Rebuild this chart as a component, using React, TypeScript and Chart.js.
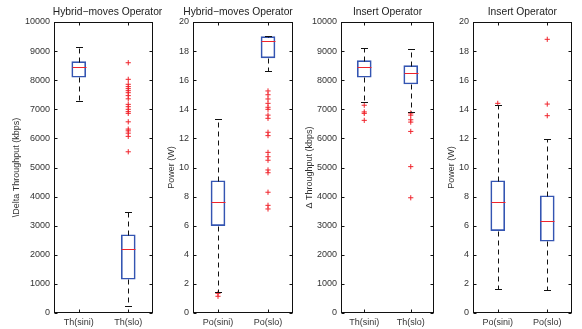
import React, { useEffect, useRef } from "react";
import { Chart, registerables } from "chart.js";

Chart.register(...registerables);

// ---------- data ----------
const TH_CATS = ["Th(sini)", "Th(slo)"];
const PO_CATS = ["Po(sini)", "Po(slo)"];

// stats: [lower whisker, Q1, median, Q3, upper whisker]
const HYB_TH_SINI = [7300, 8100, 8440, 8640, 9130];
const HYB_TH_SLO = [250, 1160, 2190, 2690, 3470];
const HYB_TH_SINI_OUT: number[] = [];
const HYB_TH_SLO_OUT = [8600, 8030, 7860, 7780, 7710, 7640, 7570, 7470, 7360, 7170, 7090, 7000, 6920, 6860, 6570, 6320, 6260, 6180, 6070, 5540];

const HYB_PO_SINI = [1.45, 6.0, 7.65, 9.09, 13.31];
const HYB_PO_SLO = [16.62, 17.53, 18.67, 19.0, 19.05];
const HYB_PO_SINI_OUT = [1.35, 1.15];
const HYB_PO_SLO_OUT = [15.26, 15.0, 14.71, 14.41, 14.14, 14.0, 13.6, 13.38, 12.42, 12.19, 11.04, 10.74, 10.5, 9.83, 9.64, 8.3, 7.4, 7.15];

const INS_TH_SINI = [7250, 8100, 8440, 8670, 9120];
const INS_TH_SLO = [6900, 7870, 8240, 8500, 9060];
const INS_TH_SINI_OUT = [7140, 6910, 6860, 6620];
const INS_TH_SLO_OUT = [6870, 6800, 6640, 6560, 6240, 5030, 3960];

const INS_PO_SINI = [1.63, 5.66, 7.65, 9.09, 14.27];
const INS_PO_SLO = [1.58, 4.93, 6.34, 8.06, 11.98];
const INS_PO_SINI_OUT = [14.41];
const INS_PO_SLO_OUT = [18.81, 14.36, 13.56];

const TITLES = ["Hybrid\u2212moves Operator", "Hybrid\u2212moves Operator", "Insert Operator", "Insert Operator"];
const Y_LABELS = ["\\Delta Throughput (kbps)", "Power (W)", "\u0394 Throughput (kbps)", "Power (W)"];
const TH_MAX = 10000;
const TH_STEP = 1000;
const PO_MAX = 20;
const PO_STEP = 2;

// ---------- layout / style ----------
const W = 582;
const H = 329;
const FONT = "'Liberation Sans', Arial, Helvetica, sans-serif";
const BLUE = "#3455b2";
const RED = "#f0242c";
const INK = "#111111";
const TEXT = "#333333";

type PanelCfg = {
  title: string;
  titleX: number;
  yLabel: string;
  cats: string[];
  stats: number[][];
  outliers: number[][];
  yMax: number;
  yStep: number;
  padL: number;
  yW: number;
  padR: number;
};

const PANELS: PanelCfg[] = [
  { title: TITLES[0], titleX: 107.5, yLabel: Y_LABELS[0], cats: TH_CATS, stats: [HYB_TH_SINI, HYB_TH_SLO], outliers: [HYB_TH_SINI_OUT, HYB_TH_SLO_OUT], yMax: TH_MAX, yStep: TH_STEP, padL: 11.6, yW: 42.4, padR: W - 153 },
  { title: TITLES[1], titleX: 238, yLabel: Y_LABELS[1], cats: PO_CATS, stats: [HYB_PO_SINI, HYB_PO_SLO], outliers: [HYB_PO_SINI_OUT, HYB_PO_SLO_OUT], yMax: PO_MAX, yStep: PO_STEP, padL: 166.1, yW: 26.9, padR: W - 293 },
  { title: TITLES[2], titleX: 387.5, yLabel: Y_LABELS[2], cats: TH_CATS, stats: [INS_TH_SINI, INS_TH_SLO], outliers: [INS_TH_SINI_OUT, INS_TH_SLO_OUT], yMax: TH_MAX, yStep: TH_STEP, padL: 304.6, yW: 36.4, padR: W - 434 },
  { title: TITLES[3], titleX: 522.3, yLabel: Y_LABELS[3], cats: PO_CATS, stats: [INS_PO_SINI, INS_PO_SLO], outliers: [INS_PO_SINI_OUT, INS_PO_SLO_OUT], yMax: PO_MAX, yStep: PO_STEP, padL: 446.1, yW: 26.9, padR: W - 572 },
];

const boxExtras = {
  id: "boxExtras",
  afterDatasetsDraw(chart: any, _args: any, opts: any) {
    const { ctx, chartArea: a, scales } = chart;
    const xs = scales.x;
    const ys = scales.y;
    const stats: number[][] = opts.stats || [];
    const py = (v: number) => Math.round(ys.getPixelForValue(v)) + 0.5;
    ctx.save();
    ctx.lineWidth = 1;
    stats.forEach((s, i) => {
      const cx = Math.round(xs.getPixelForValue(i)) + 0.5;
      const [lo, q1, med, q3, hi] = s;
      // whiskers
      ctx.strokeStyle = INK;
      ctx.setLineDash([5, 4]);
      ctx.beginPath();
      ctx.moveTo(cx, py(q3));
      ctx.lineTo(cx, py(hi));
      ctx.moveTo(cx, py(q1));
      ctx.lineTo(cx, py(lo));
      ctx.stroke();
      ctx.setLineDash([]);
      ctx.beginPath();
      ctx.moveTo(cx - 3.5, py(hi));
      ctx.lineTo(cx + 3.5, py(hi));
      ctx.moveTo(cx - 3.5, py(lo));
      ctx.lineTo(cx + 3.5, py(lo));
      ctx.stroke();
      // median
      ctx.strokeStyle = RED;
      ctx.beginPath();
      ctx.moveTo(cx - 7, py(med));
      ctx.lineTo(cx + 7, py(med));
      ctx.stroke();
    });
    // axes box
    const L = Math.round(a.left) + 0.5;
    const R = Math.round(a.right) - 0.5;
    const T = Math.round(a.top) + 0.5;
    const B = Math.round(a.bottom) - 0.5;
    ctx.strokeStyle = INK;
    ctx.strokeRect(L, T, R - L, B - T);
    // inner ticks
    ctx.beginPath();
    ys.ticks.forEach((_t: any, i: number) => {
      const yy = Math.round(ys.getPixelForTick(i)) + 0.5;
      ctx.moveTo(L, yy);
      ctx.lineTo(L + 3, yy);
      ctx.moveTo(R, yy);
      ctx.lineTo(R - 3, yy);
    });
    xs.ticks.forEach((_t: any, i: number) => {
      const xx = Math.round(xs.getPixelForTick(i)) + 0.5;
      ctx.moveTo(xx, B);
      ctx.lineTo(xx, B - 3);
      ctx.moveTo(xx, T);
      ctx.lineTo(xx, T + 3);
    });
    ctx.stroke();
    // panel title (centred as in the source figure)
    if (opts.title) {
      ctx.fillStyle = "#222222";
      ctx.font = `10.3px ${FONT}`;
      ctx.textAlign = "center";
      ctx.textBaseline = "middle";
      ctx.fillText(opts.title, opts.titleX, 12);
    }
    ctx.restore();
  },
};

function Panel({ cfg }: { cfg: PanelCfg }) {
  const ref = useRef<HTMLCanvasElement | null>(null);
  useEffect(() => {
    if (!ref.current) return;
    const outlierData: { x: string; y: number }[] = [];
    cfg.outliers.forEach((arr, i) => arr.forEach((v) => outlierData.push({ x: cfg.cats[i], y: v })));
    const chart = new Chart(ref.current, {
      type: "bar",
      data: {
        labels: cfg.cats,
        datasets: [
          {
            type: "bar",
            data: cfg.stats.map((s) => [s[1], s[3]]) as any,
            backgroundColor: "rgba(0,0,0,0)",
            borderColor: BLUE,
            borderWidth: 1,
            borderSkipped: false,
            barThickness: 14,
          } as any,
          {
            type: "scatter",
            data: outlierData as any,
            pointStyle: "cross",
            pointRadius: 2.6,
            borderColor: RED,
            backgroundColor: RED,
            borderWidth: 1,
            showLine: false,
          } as any,
        ],
      },
      options: {
        responsive: false,
        animation: false,
        devicePixelRatio: 1,
        layout: { padding: { left: cfg.padL, right: cfg.padR, top: 22, bottom: 0 } },
        plugins: {
          legend: { display: false },
          tooltip: { enabled: false },
          title: { display: false },
          boxExtras: { stats: cfg.stats, title: cfg.title, titleX: cfg.titleX },
        } as any,
        scales: {
          x: {
            type: "category",
            offset: true,
            grid: { display: false, drawTicks: false },
            border: { display: false },
            ticks: { color: TEXT, font: { family: FONT, size: 9 }, padding: 4, maxRotation: 0, autoSkip: false },
            afterFit: (s: any) => {
              s.height = 16;
            },
          },
          y: {
            type: "linear",
            min: 0,
            max: cfg.yMax,
            grid: { display: false, drawTicks: false },
            border: { display: false },
            ticks: {
              stepSize: cfg.yStep,
              color: TEXT,
              font: { family: FONT, size: 9 },
              padding: 4,
              callback: (v: any) => String(v),
            },
            title: { display: true, text: cfg.yLabel, color: TEXT, font: { family: FONT, size: 9 }, padding: 0 },
            afterFit: (s: any) => {
              s.width = cfg.yW;
            },
          },
        } as any,
      },
      plugins: [boxExtras],
    });
    return () => chart.destroy();
  }, [cfg]);
  return (
    <canvas
      ref={ref}
      width={W}
      height={H}
      style={{ position: "absolute", left: 0, top: 0, width: W, height: H }}
    />
  );
}

export default function App() {
  return (
    <div style={{ position: "fixed", left: 0, top: 0, width: W, height: H, background: "#fff" }}>
      {PANELS.map((p, i) => (
        <Panel key={i} cfg={p} />
      ))}
    </div>
  );
}
